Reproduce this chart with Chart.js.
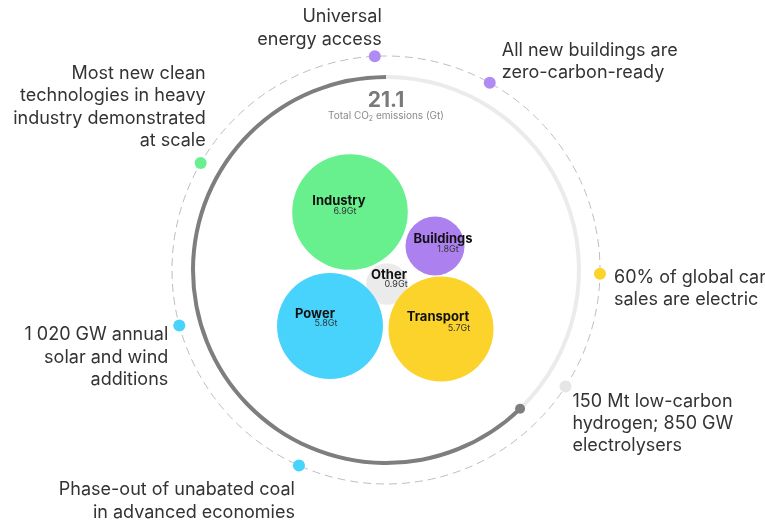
<!DOCTYPE html>
<html>
<head>
<meta charset="utf-8">
<script src="https://cdn.jsdelivr.net/npm/chart.js@4.4.0/dist/chart.umd.min.js"></script>
<style>
  html, body { margin: 0; padding: 0; background: #fff; }
  #wrap { position: relative; width: 765px; height: 520px; }
  #wrap canvas { position: absolute; left: 0; top: 0; }
</style>
</head>
<body>
<div id="wrap">
  <canvas id="ring" width="765" height="520"></canvas>
  <canvas id="bubbles" width="765" height="520"></canvas>
</div>
<script>
// sectors
const sectors = ['Industry', 'Buildings', 'Other', 'Power', 'Transport'];
const emissions = [6.9, 1.8, 0.9, 5.8, 5.7]; // Gt
const sectorColors = ['#68f08f', '#ad80ef', '#ebebeb', '#48d3fd', '#fcd32a'];
const totalEmissions = 21.1;

// packed layout of the bubbles (chart units, centre of ring = 0,0)
const bubbleX = [-36, 49, 1, -56, 55];
const bubbleY = [58, 24, -14, -56, -59];

// milestones round the dashed circle, angle in degrees clockwise from top
const milestones = [
  ['Universal', 'energy access'],
  ['All new buildings are', 'zero-carbon-ready'],
  ['60% of global car', 'sales are electric'],
  ['150 Mt low-carbon', 'hydrogen; 850 GW', 'electrolysers'],
  ['Phase-out of unabated coal', 'in advanced economies'],
  ['1 020 GW annual', 'solar and wind', 'additions'],
  ['Most new clean', 'technologies in heavy', 'industry demonstrated', 'at scale']
];
const milestoneAngles = [357, 29, 91, 123, 204, 255, 300];
const milestoneColors = ['#b08bf3', '#b08bf3', '#fcd32a', '#e6e6e6', '#48d3fd', '#48d3fd', '#68f08f'];

// progress ring: remaining part, covered part
const ringValues = [136, 224];

const R_DASH = 214;
const R_RING = 193;

// text offsets inside the bubbles (px from bubble centre)
const nameDx = [-11, 8, 2, -15, -3];
const nameDy = [-7, -3, -5, -8, -8];
const valueDx = [-5, 13, 9, -4, 18];
const valueDy = [2, 6, 3, 0, 2];

// where the text of each milestone sits relative to its dot
const labelAlign = ['right', 'left', 'left', 'left', 'right', 'right', 'right'];
const labelDx = [7, 12, 14, 7, -4, -11, 5];
const labelDy = [-34, -27, 9, 20, 30, 15, -84];
const LINE_H = 22.3;

// ---- ring (doughnut) ----
new Chart(document.getElementById('ring'), {
  type: 'doughnut',
  data: {
    labels: ['to go', 'done'],
    datasets: [{
      data: ringValues,
      backgroundColor: ['#ebebeb', '#7e7e7e'],
      borderWidth: 0
    }]
  },
  options: {
    responsive: false,
    animation: false,
    cutout: 191,
    layout: { padding: { left: 191, right: 184, top: 75, bottom: 55 } },
    plugins: { legend: { display: false }, tooltip: { enabled: false } }
  }
});

// ---- bubbles, milestones ----
const toRad = d => d * Math.PI / 180;
const milestonePoints = milestoneAngles.map(a => ({
  x: R_DASH * Math.sin(toRad(a)),
  y: R_DASH * Math.cos(toRad(a))
}));
const doneAngle = ringValues[0] / (ringValues[0] + ringValues[1]) * 360;

const overlayPlugin = {
  id: 'overlay',
  beforeDatasetsDraw(chart) {
    const ctx = chart.ctx;
    const xs = chart.scales.x, ys = chart.scales.y;
    const cx = xs.getPixelForValue(0), cy = ys.getPixelForValue(0);
    const r = xs.getPixelForValue(R_DASH) - cx;
    ctx.save();
    ctx.strokeStyle = '#bdbdbd';
    ctx.lineWidth = 1;
    ctx.setLineDash([8, 5]);
    ctx.beginPath();
    ctx.arc(cx, cy, r, 0, Math.PI * 2);
    ctx.stroke();
    ctx.restore();
  },
  afterDatasetsDraw(chart) {
    const ctx = chart.ctx;
    const xs = chart.scales.x;
    const cx = xs.getPixelForValue(0);
    ctx.save();
    // total
    ctx.fillStyle = '#7a7a7a';
    ctx.textAlign = 'center';
    ctx.textBaseline = 'alphabetic';
    ctx.font = 'bold 21px Inter, sans-serif';
    ctx.fillText(totalEmissions.toFixed(1), cx, 107);
    ctx.fillStyle = '#8a8a8a';
    ctx.font = '10px Inter, sans-serif';
    const t1 = 'Total CO', t2 = ' emissions (Gt)';
    const w1 = ctx.measureText(t1).width, w2 = ctx.measureText(t2).width;
    ctx.font = '7px Inter, sans-serif';
    const ws = ctx.measureText('2').width;
    let x0 = cx - (w1 + ws + w2) / 2;
    ctx.textAlign = 'left';
    ctx.font = '10px Inter, sans-serif';
    ctx.fillText(t1, x0, 119);
    ctx.font = '7px Inter, sans-serif';
    ctx.fillText('2', x0 + w1, 121);
    ctx.font = '10px Inter, sans-serif';
    ctx.fillText(t2, x0 + w1 + ws, 119);

    // bubble labels
    const meta = chart.getDatasetMeta(0);
    meta.data.forEach((pt, i) => {
      ctx.textAlign = 'center';
      ctx.fillStyle = '#111';
      ctx.font = 'bold 13px Inter, sans-serif';
      ctx.fillText(sectors[i], pt.x + nameDx[i], pt.y + nameDy[i]);
      ctx.fillStyle = '#333';
      ctx.font = '9px Inter, sans-serif';
      ctx.fillText(emissions[i].toFixed(1) + 'Gt', pt.x + valueDx[i], pt.y + valueDy[i]);
    });

    // milestone labels
    const mmeta = chart.getDatasetMeta(1);
    ctx.fillStyle = '#333';
    ctx.font = '18px Inter, sans-serif';
    mmeta.data.forEach((pt, i) => {
      ctx.textAlign = labelAlign[i];
      milestones[i].forEach((line, j) => {
        ctx.fillText(line, pt.x + labelDx[i], pt.y + labelDy[i] + j * LINE_H);
      });
    });
    ctx.restore();
  }
};

new Chart(document.getElementById('bubbles'), {
  type: 'bubble',
  data: {
    datasets: [
      {
        label: 'Sectors',
        data: emissions.map((v, i) => ({ x: bubbleX[i], y: bubbleY[i], r: 22 * Math.sqrt(v) })),
        backgroundColor: sectorColors,
        borderWidth: 0,
        hoverRadius: 0,
        clip: false
      },
      {
        label: 'Milestones',
        data: milestonePoints.map(p => ({ x: p.x, y: p.y, r: 6 })),
        backgroundColor: milestoneColors,
        borderWidth: 0,
        clip: false
      },
      {
        label: 'Progress',
        data: [{ x: R_RING * Math.sin(toRad(doneAngle)), y: R_RING * Math.cos(toRad(doneAngle)), r: 5 }],
        backgroundColor: '#7e7e7e',
        borderWidth: 0,
        clip: false
      }
    ]
  },
  options: {
    responsive: false,
    animation: false,
    layout: { padding: 0, autoPadding: false },
    scales: {
      x: { display: false, min: -386, max: 379 },
      y: { display: false, min: -250, max: 270 }
    },
    plugins: { legend: { display: false }, tooltip: { enabled: false } }
  },
  plugins: [overlayPlugin]
});
</script>
</body>
</html>
